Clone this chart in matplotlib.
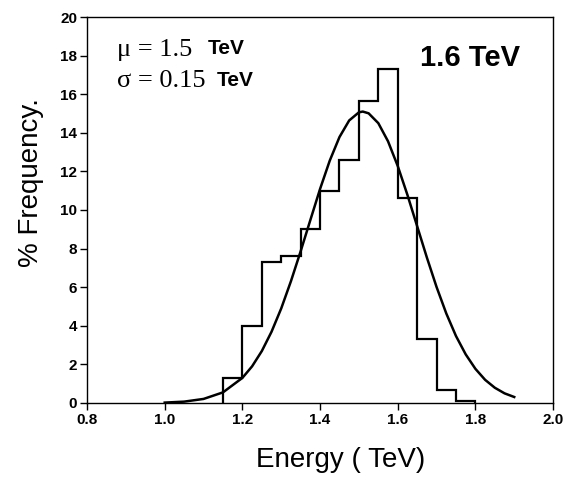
import numpy as np
import matplotlib
matplotlib.use("Agg")
import matplotlib.pyplot as plt

# histogram: bin edges (TeV) and % frequency per bin
bin_edges = [1.15, 1.20, 1.25, 1.30, 1.35, 1.40, 1.45, 1.50, 1.55, 1.60,
             1.65, 1.70, 1.75, 1.80]
freq = [1.3, 4.0, 7.3, 7.6, 9.0, 11.0, 12.6, 15.65, 17.3, 10.6, 3.3, 0.65, 0.1]

# fitted gaussian curve
fit_x = [1.00, 1.05, 1.10, 1.15, 1.20, 1.225, 1.25, 1.275, 1.30, 1.325, 1.35,
         1.375, 1.40, 1.425, 1.45, 1.475, 1.50, 1.51, 1.525, 1.55, 1.575, 1.60,
         1.625, 1.65, 1.675, 1.70, 1.725, 1.75, 1.775, 1.80, 1.825, 1.85,
         1.875, 1.90]
fit_y = [0.02, 0.07, 0.21, 0.55, 1.30, 1.90, 2.69, 3.69, 4.90, 6.31, 7.86,
         9.48, 11.09, 12.56, 13.78, 14.64, 15.06, 15.1, 15.01, 14.50, 13.56,
         12.28, 10.78, 9.16, 7.54, 6.01, 4.64, 3.47, 2.52, 1.77, 1.20, 0.79,
         0.50, 0.31]

x_ticks = [0.8, 1.0, 1.2, 1.4, 1.6, 1.8, 2.0]
y_ticks = [0, 2, 4, 6, 8, 10, 12, 14, 16, 18, 20]

plt.rcParams['font.family'] = ['Liberation Sans', 'DejaVu Sans']

fig = plt.figure(figsize=(5.69, 4.79), dpi=100)
ax = fig.add_axes([0.153, 0.1587, 0.819, 0.8058])

ax.stairs(freq, bin_edges, baseline=0, fill=False, color='black', lw=1.6)
ax.plot(fit_x, fit_y, color='black', lw=1.8)

ax.set_xlim(0.8, 2.0)
ax.set_ylim(0, 20)
ax.set_xticks(x_ticks)
ax.set_xticklabels([f'{v:.1f}' for v in x_ticks])
ax.set_yticks(y_ticks)
ax.tick_params(direction='out', length=5, width=1, pad=2, labelsize=11)
for lbl in ax.get_xticklabels() + ax.get_yticklabels():
    lbl.set_fontweight('bold')
for sp in ax.spines.values():
    sp.set_linewidth(1.0)

ax.set_xlabel('Energy ( TeV)', fontsize=20)
ax.xaxis.set_label_coords(0.545, -0.115)
ax.set_ylabel('% Frequency.', fontsize=20)
ax.yaxis.set_label_coords(-0.092, 0.57)

# annotations
serif = ['Liberation Serif', 'DejaVu Serif']
ax.text(0.064, 0.915, 'μ = 1.5', transform=ax.transAxes, fontsize=19,
        va='center', family=serif)
ax.text(0.26, 0.918, 'TeV', transform=ax.transAxes, fontsize=15,
        fontweight='bold', va='center')
ax.text(0.064, 0.835, 'σ = 0.15', transform=ax.transAxes, fontsize=19,
        va='center', family=serif)
ax.text(0.279, 0.835, 'TeV', transform=ax.transAxes, fontsize=15,
        fontweight='bold', va='center')
ax.text(0.715, 0.895, '1.6 TeV', transform=ax.transAxes, fontsize=21,
        fontweight='bold', va='center')

fig.savefig('out.png', dpi=100)
